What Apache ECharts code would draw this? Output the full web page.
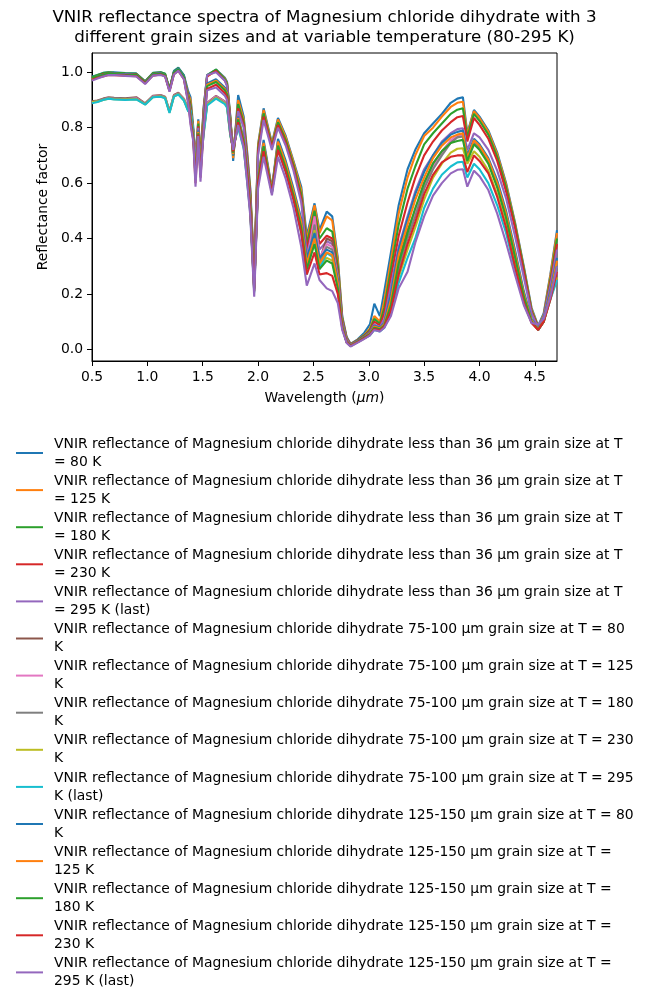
<!DOCTYPE html>
<html lang="en">
<head>
<meta charset="UTF-8">
<title>VNIR reflectance spectra</title>
<script src="https://cdn.jsdelivr.net/npm/echarts@6.0.0/dist/echarts.min.js"></script>
<style>
  body { margin: 0; background: #fff; }
  #main { width: 649px; height: 1001px; }
</style>
</head>
<body>
<div id="main"></div>
<script>
// wavelength grid (um)
var wavelength = [
  0.50, 0.55, 0.60, 0.65, 0.70, 0.80, 0.90, 0.98, 1.05, 1.12,
  1.16, 1.20, 1.24, 1.28, 1.33, 1.37, 1.39, 1.415, 1.435, 1.46,
  1.48, 1.51, 1.54, 1.62, 1.70, 1.72, 1.75, 1.775, 1.82, 1.87,
  1.90, 1.93, 1.965, 2.00, 2.05, 2.125, 2.18, 2.25, 2.32, 2.39,
  2.44, 2.51, 2.555, 2.62, 2.67, 2.72, 2.76, 2.80, 2.835, 2.90,
  2.96, 3.01, 3.05, 3.10, 3.14, 3.20, 3.27, 3.35, 3.42, 3.50,
  3.58, 3.66, 3.74, 3.80, 3.85, 3.89, 3.95, 4.00, 4.08, 4.16,
  4.24, 4.32, 4.40, 4.47, 4.53, 4.58, 4.64, 4.70
];

// < 36 um grain size
var fine80 = [
  .985,.99,.998,1.0,1.0,.997,.996,.968,.998,1.0,
  .995,.94,1.005,1.017,.99,.93,.91,.8,.69,.83,
  .7,.88,.99,1.01,.98,.965,.84,.68,.918,.84,
  .72,.58,.275,.74,.87,.745,.835,.77,.68,.587,
  .41,.527,.43,.497,.48,.33,.12,.045,.02,.036,
  .06,.09,.165,.12,.21,.35,.52,.65,.72,.78,
  .815,.85,.89,.905,.91,.78,.864,.84,.79,.71,
  .6,.46,.3,.15,.085,.13,.27,.43
];
var fine125 = [
  .98,.988,.995,.998,.997,.995,.994,.966,.996,.998,
  .993,.938,1.0,1.013,.985,.92,.9,.79,.68,.825,
  .69,.875,.985,1.008,.978,.96,.835,.69,.9,.83,
  .71,.57,.27,.735,.864,.74,.83,.765,.675,.575,
  .395,.52,.42,.48,.465,.32,.115,.042,.019,.034,
  .052,.075,.12,.1,.175,.32,.49,.62,.7,.77,
  .8,.84,.875,.89,.894,.775,.86,.835,.785,.705,
  .595,.455,.295,.145,.082,.125,.265,.42
];
var fine180 = [
  .982,.99,.997,1.0,.998,.996,.995,.967,.997,1.0,
  .995,.94,1.003,1.015,.988,.915,.885,.785,.66,.815,
  .67,.87,.99,1.01,.975,.958,.83,.7,.885,.82,
  .7,.56,.265,.725,.852,.735,.82,.755,.665,.56,
  .38,.5,.4,.437,.425,.3,.11,.04,.018,.033,
  .05,.07,.11,.092,.15,.29,.45,.58,.66,.74,
  .78,.815,.85,.865,.87,.765,.85,.825,.775,.695,
  .585,.45,.29,.14,.08,.12,.25,.4
];
var fine230 = [
  .978,.985,.993,.996,.995,.993,.992,.964,.994,.996,
  .99,.935,.998,1.01,.982,.91,.87,.78,.64,.805,
  .65,.865,.985,1.005,.97,.952,.825,.705,.87,.81,
  .69,.55,.26,.715,.84,.73,.81,.745,.655,.545,
  .36,.48,.38,.41,.4,.28,.105,.038,.017,.032,
  .048,.066,.1,.086,.13,.26,.41,.53,.62,.7,
  .75,.79,.82,.838,.842,.75,.835,.81,.76,.68,
  .57,.44,.28,.135,.078,.115,.24,.38
];
var fine295 = [
  .975,.985,.99,.995,.995,.993,.99,.962,.993,.996,
  .99,.935,.998,1.012,.983,.905,.86,.775,.62,.8,
  .63,.86,.99,1.0,.97,.95,.82,.71,.86,.8,
  .68,.54,.25,.7,.828,.72,.8,.735,.645,.53,
  .34,.46,.36,.39,.38,.27,.1,.036,.016,.03,
  .046,.062,.09,.08,.11,.23,.37,.48,.57,.65,
  .7,.75,.78,.795,.798,.72,.78,.765,.72,.645,
  .545,.41,.26,.13,.076,.12,.23,.36
];

// 75-100 um grain size
var mid80 = [
  .895,.898,.905,.91,.908,.906,.91,.888,.915,.918,
  .912,.86,.918,.926,.905,.87,.865,.79,.68,.785,
  .69,.8,.89,.915,.895,.885,.78,.72,.82,.745,
  .64,.51,.22,.61,.74,.575,.745,.665,.565,.45,
  .3,.46,.32,.4,.39,.27,.09,.03,.015,.03,
  .044,.058,.082,.076,.09,.17,.32,.43,.5,.6,
  .67,.715,.75,.768,.77,.69,.745,.725,.675,.59,
  .48,.33,.19,.105,.07,.1,.19,.27
];
var mid125 = [
  .892,.895,.902,.908,.905,.903,.907,.886,.913,.916,
  .91,.858,.916,.924,.903,.866,.86,.785,.67,.78,
  .68,.795,.888,.913,.893,.88,.775,.72,.815,.74,
  .635,.505,.22,.615,.745,.578,.75,.67,.57,.455,
  .31,.48,.33,.38,.37,.26,.088,.029,.014,.029,
  .043,.056,.08,.074,.088,.16,.3,.41,.49,.59,
  .66,.71,.755,.772,.775,.7,.75,.73,.68,.595,
  .485,.335,.19,.1,.07,.1,.19,.28
];
var mid180 = [
  .89,.897,.903,.907,.906,.904,.905,.886,.912,.915,
  .91,.857,.915,.923,.9,.862,.86,.78,.66,.775,
  .67,.79,.885,.91,.89,.878,.775,.725,.81,.735,
  .63,.5,.215,.605,.735,.572,.74,.66,.56,.445,
  .295,.45,.31,.37,.36,.25,.085,.028,.013,.028,
  .042,.054,.076,.07,.084,.15,.29,.4,.48,.58,
  .65,.7,.745,.765,.768,.695,.745,.725,.675,.59,
  .48,.33,.185,.1,.07,.1,.185,.27
];
var mid230 = [
  .893,.894,.9,.905,.903,.902,.903,.884,.91,.913,
  .908,.855,.913,.921,.9,.86,.858,.775,.65,.77,
  .66,.785,.883,.908,.888,.875,.77,.725,.805,.73,
  .62,.495,.21,.6,.725,.568,.73,.65,.55,.43,
  .28,.43,.3,.33,.32,.23,.08,.027,.012,.027,
  .04,.052,.072,.067,.08,.14,.26,.36,.44,.54,
  .62,.67,.71,.724,.726,.67,.715,.695,.645,.56,
  .45,.31,.175,.098,.072,.1,.18,.26
];
var mid295 = [
  .888,.893,.9,.905,.902,.9,.902,.883,.91,.912,
  .906,.853,.912,.92,.898,.858,.864,.78,.66,.768,
  .67,.78,.88,.905,.885,.872,.77,.73,.8,.725,
  .61,.49,.205,.595,.72,.565,.72,.64,.54,.42,
  .27,.41,.29,.347,.335,.24,.08,.026,.012,.026,
  .04,.05,.07,.064,.078,.13,.24,.33,.4,.51,
  .58,.63,.66,.675,.677,.62,.67,.65,.6,.52,
  .42,.29,.165,.098,.074,.105,.18,.25
];

// 125-150 um grain size
var coarse80 = [
  .978,.985,.99,.995,.995,.992,.99,.963,.993,.996,
  .99,.938,1.0,1.012,.985,.905,.85,.77,.65,.79,
  .66,.83,.96,.975,.945,.93,.8,.7,.84,.76,
  .65,.52,.23,.62,.756,.58,.76,.68,.58,.47,
  .33,.42,.33,.36,.35,.25,.09,.03,.015,.03,
  .045,.06,.085,.078,.095,.2,.36,.47,.56,.64,
  .7,.745,.775,.785,.79,.7,.76,.74,.69,.61,
  .5,.36,.21,.11,.075,.11,.21,.33
];
var coarse125 = [
  .975,.982,.988,.993,.992,.99,.988,.962,.99,.993,
  .988,.935,.996,1.008,.98,.9,.84,.765,.64,.785,
  .65,.825,.955,.97,.94,.925,.795,.705,.835,.755,
  .645,.515,.225,.615,.745,.575,.75,.67,.57,.46,
  .31,.4,.31,.35,.34,.24,.085,.028,.014,.028,
  .043,.058,.082,.075,.09,.18,.34,.45,.54,.62,
  .69,.735,.765,.775,.78,.69,.755,.735,.685,.6,
  .49,.35,.2,.105,.072,.105,.2,.32
];
var coarse180 = [
  .98,.985,.99,.996,.994,.99,.99,.963,.992,.995,
  .99,.937,.998,1.01,.982,.895,.83,.76,.62,.78,
  .63,.82,.95,.965,.935,.92,.79,.71,.83,.75,
  .64,.51,.22,.61,.733,.57,.735,.655,.555,.44,
  .29,.38,.29,.32,.31,.22,.08,.026,.013,.027,
  .042,.055,.078,.072,.086,.16,.31,.42,.51,.6,
  .67,.715,.745,.752,.756,.68,.74,.72,.67,.585,
  .475,.335,.19,.1,.07,.1,.19,.3
];
var coarse230 = [
  .972,.98,.985,.99,.99,.988,.986,.96,.988,.992,
  .986,.932,.993,1.005,.975,.89,.82,.755,.6,.775,
  .62,.81,.94,.955,.925,.91,.785,.715,.82,.74,
  .63,.5,.21,.6,.715,.565,.72,.64,.54,.42,
  .27,.35,.27,.275,.265,.2,.075,.025,.012,.026,
  .04,.052,.074,.068,.082,.14,.27,.38,.46,.56,
  .63,.675,.695,.7,.7,.64,.7,.68,.635,.55,
  .44,.3,.17,.095,.07,.1,.18,.28
];
var coarse295 = [
  .97,.978,.985,.99,.99,.987,.985,.958,.988,.99,
  .985,.93,.992,1.005,.975,.885,.81,.75,.587,.77,
  .605,.8,.935,.945,.915,.9,.78,.72,.81,.73,
  .61,.48,.19,.58,.695,.556,.695,.615,.51,.37,
  .23,.31,.25,.22,.21,.167,.07,.023,.01,.024,
  .038,.05,.07,.064,.078,.12,.22,.28,.385,.48,
  .555,.6,.635,.648,.65,.587,.645,.625,.575,.49,
  .385,.27,.16,.095,.09,.11,.19,.3
];

var seriesValues = [fine80, fine125, fine180, fine230, fine295,
                    mid80, mid125, mid180, mid230, mid295,
                    coarse80, coarse125, coarse180, coarse230, coarse295];

// legend names, wrapped like the original
var seriesNames = [
  'VNIR reflectance of Magnesium chloride dihydrate less than 36 µm grain size at T\n= 80 K',
  'VNIR reflectance of Magnesium chloride dihydrate less than 36 µm grain size at T\n= 125 K',
  'VNIR reflectance of Magnesium chloride dihydrate less than 36 µm grain size at T\n= 180 K',
  'VNIR reflectance of Magnesium chloride dihydrate less than 36 µm grain size at T\n= 230 K',
  'VNIR reflectance of Magnesium chloride dihydrate less than 36 µm grain size at T\n= 295 K (last)',
  'VNIR reflectance of Magnesium chloride dihydrate 75-100 µm grain size at T = 80\nK',
  'VNIR reflectance of Magnesium chloride dihydrate 75-100 µm grain size at T = 125\nK',
  'VNIR reflectance of Magnesium chloride dihydrate 75-100 µm grain size at T = 180\nK',
  'VNIR reflectance of Magnesium chloride dihydrate 75-100 µm grain size at T = 230\nK',
  'VNIR reflectance of Magnesium chloride dihydrate 75-100 µm grain size at T = 295\nK (last)',
  'VNIR reflectance of Magnesium chloride dihydrate 125-150 µm grain size at T = 80\nK',
  'VNIR reflectance of Magnesium chloride dihydrate 125-150 µm grain size at T =\n125 K',
  'VNIR reflectance of Magnesium chloride dihydrate 125-150 µm grain size at T =\n180 K',
  'VNIR reflectance of Magnesium chloride dihydrate 125-150 µm grain size at T =\n230 K',
  'VNIR reflectance of Magnesium chloride dihydrate 125-150 µm grain size at T =\n295 K (last)'
];

var xTicks = [0.5, 1.0, 1.5, 2.0, 2.5, 3.0, 3.5, 4.0, 4.5];
var yTicks = [0.0, 0.2, 0.4, 0.6, 0.8, 1.0];

var colors = ['#1f77b4', '#ff7f0e', '#2ca02c', '#d62728', '#9467bd',
              '#8c564b', '#e377c2', '#7f7f7f', '#bcbd22', '#17becf',
              '#1f77b4', '#ff7f0e', '#2ca02c', '#d62728', '#9467bd'];

var font = 'DejaVu Sans';
var myChart = echarts.init(document.getElementById('main'));

var series = seriesValues.map(function(vals, i) {
    return {
        name: seriesNames[i],
        type: 'line',
        showSymbol: false,
        symbol: 'none',
        lineStyle: { width: 2.1, color: colors[i] },
        itemStyle: { color: colors[i] },
        data: wavelength.map(function(w, j) { return [w, vals[j]]; })
    };
});

var option = {
    animation: false,
    backgroundColor: '#fff',
    title: {
        text: 'VNIR reflectance spectra of Magnesium chloride dihydrate with 3\ndifferent grain sizes and at variable temperature (80-295 K)',
        left: 'center',
        top: 8,
        padding: 0,
        textStyle: { fontFamily: font, fontSize: 16.7, fontWeight: 'normal', color: '#000', lineHeight: 20 }
    },
    grid: {
        left: 92, top: 53, width: 465, height: 308,
        show: true, borderColor: '#000', borderWidth: 1
    },
    xAxis: {
        type: 'value',
        min: 0.5, max: 4.7,
        name: 'Wavelength ({i|μm})',
        nameLocation: 'middle',
        nameGap: 30,
        nameTextStyle: {
            fontFamily: font, fontSize: 13.9, color: '#000',
            rich: { i: { fontFamily: font, fontSize: 13.9, fontStyle: 'italic', color: '#000' } }
        },
        axisLine: { onZero: false, lineStyle: { color: '#000', width: 1 } },
        axisTick: { customValues: xTicks, length: 5, lineStyle: { color: '#000' } },
        axisLabel: {
            customValues: xTicks, margin: 9, color: '#000', fontFamily: font, fontSize: 13.9,
            formatter: function(v) { return v.toFixed(1); }
        },
        splitLine: { show: false }
    },
    yAxis: {
        type: 'value',
        min: -0.0422, max: 1.0697,
        name: 'Reflectance factor',
        nameLocation: 'middle',
        nameGap: 34,
        nameTextStyle: { fontFamily: font, fontSize: 13.9, color: '#000' },
        axisLine: { show: true, onZero: false, lineStyle: { color: '#000', width: 1 } },
        axisTick: { show: true, customValues: yTicks, length: 5, lineStyle: { color: '#000' } },
        axisLabel: {
            customValues: yTicks, margin: 9, color: '#000', fontFamily: font, fontSize: 13.9,
            formatter: function(v) { return v.toFixed(1); }
        },
        splitLine: { show: false }
    },
    legend: {
        orient: 'vertical',
        left: 16,
        top: 435,
        padding: 0,
        itemGap: 1.1,
        itemWidth: 27,
        itemHeight: 2,
        icon: 'rect',
        data: seriesNames,
        textStyle: { fontFamily: font, fontSize: 13.9, color: '#000', lineHeight: 18, padding: [0, 0, 0, 6] }
    },
    series: series
};

myChart.setOption(option);
</script>
</body>
</html>
